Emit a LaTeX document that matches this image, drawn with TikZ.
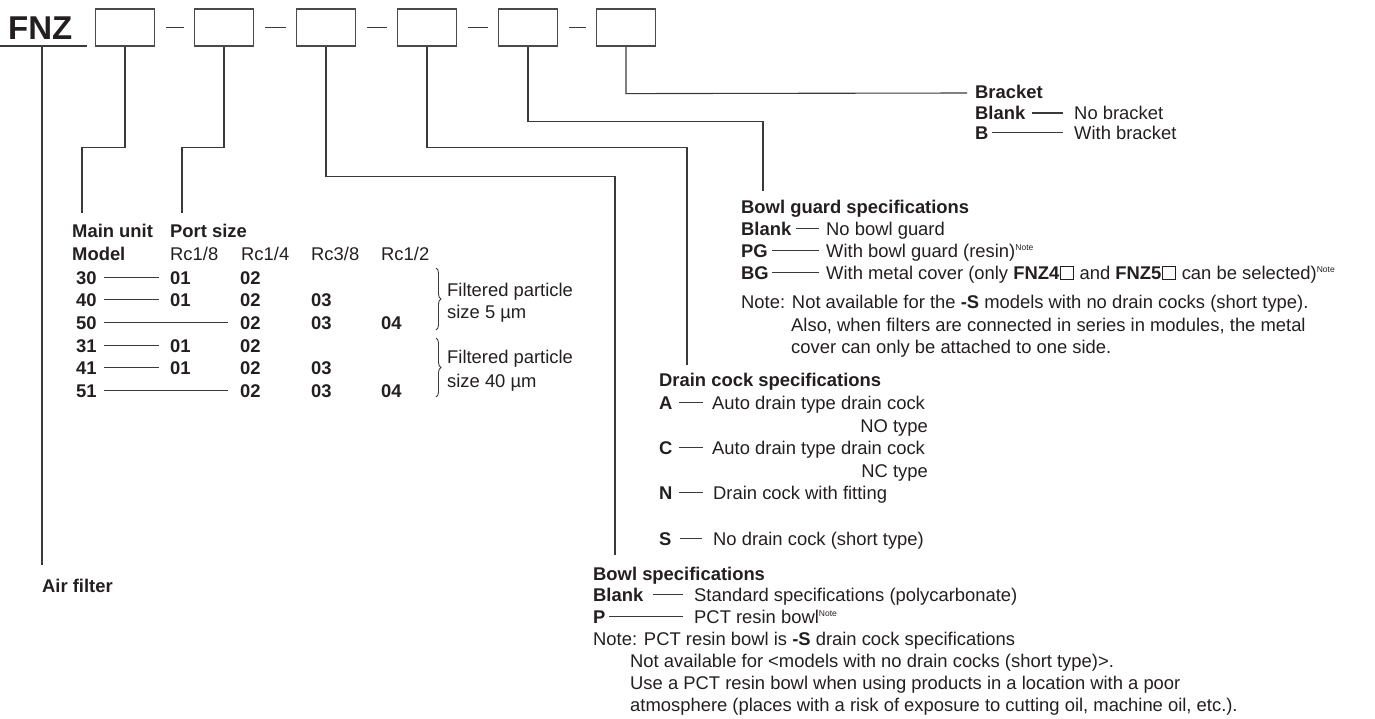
\documentclass[tikz,border=0pt]{standalone}
\usepackage{fontspec}
\setmainfont{Liberation Sans}
\usetikzlibrary{decorations.pathreplacing}
\definecolor{ink}{HTML}{231F20}
\definecolor{linec}{HTML}{3A3A3A}
\definecolor{boxc}{HTML}{4A4A4A}
\newcommand{\supnote}{\raisebox{6.5pt}{\fontsize{8.5}{9}\selectfont\mdseries Note}}
\newcommand{\sqbox}{\kern1pt{\fboxsep=0pt\fboxrule=0.6pt\fbox{\rule{0pt}{12pt}\kern12pt}}\kern1pt}
\begin{document}
\begin{tikzpicture}[x=1pt,y=-1pt,
 txt/.style={inner sep=0pt, anchor=base west, font=\fontsize{18.4}{22}\selectfont, text=ink},
 bt/.style={txt, font=\fontsize{18.4}{22}\selectfont\bfseries},
 rt/.style={txt, anchor=base east},
 codebox/.style={draw=boxc, line width=1.2pt, minimum width=59pt, minimum height=37pt, inner sep=0pt},
 lead/.style={draw=linec, line width=1.1pt},
]
\useasboundingbox (0,0) rectangle (1375,718);

% ---- code header ----
\node[txt, font=\fontsize{33}{36}\selectfont\bfseries] (fnz) at (8,39) {FNZ};
\coordinate (ul0) at (0,46); \coordinate (ul1) at (87,46);
\draw[lead] (ul0) -- (ul1);
\node[codebox] (b1) at (125,27.5) {};
\node[codebox] (b2) at (224,27.5) {};
\node[codebox] (b3) at (326,27.5) {};
\node[codebox] (b4) at (427,27.5) {};
\node[codebox] (b5) at (528,27.5) {};
\node[codebox] (b6) at (626,27.5) {};
\foreach \i/\j in {1/2,2/3,3/4,4/5,5/6}
  \draw[lead] ([xshift=11pt]b\i.east) -- ([xshift=-10pt]b\j.west);

% ---- Air filter ----
\coordinate (af0) at (42,46);
\node[bt] (airf) at (42,592) {Air filter};
\draw[lead] (af0) -- ([shift={(0,-27)}]airf.base west);

% ---- leader lines ----
\coordinate (e1) at (82,213);
\coordinate (e2) at (182,213);
\coordinate (e3) at (615,555);
\coordinate (e4) at (687,365);
\coordinate (e5) at (763,191);
\coordinate (e6) at (967,93);
\draw[lead] (b1.south) -- ++(0,101) -| (e1);
\draw[lead] (b2.south) -- ++(0,101) -| (e2);
\draw[lead] (b3.south) -- ++(0,130) -| (e3);
\draw[lead] (b4.south) -- ++(0,101) -| (e4);
\draw[lead] (b5.south) -- ++(0,75) -| (e5);
\draw[lead] (b6.south) -- ++(0,47) -- (e6);

% ---- Main unit / port size table ----
\node[bt] (mu) at (72,237) {Main unit};
\node[bt] (mo) at (72,260) {Model};
\node[bt] (ps) at (170,237) {Port size};
\node[txt] (r1) at (170,260) {Rc1/8};
\node[txt] (r2) at (241,260) {Rc1/4};
\node[txt] (r3) at (311,260) {Rc3/8};
\node[txt] (r4) at (381,260) {Rc1/2};

\node[bt] (m30) at (76,284) {30};
\node[bt] (c30a) at (170,284) {01};
\node[bt] (c30b) at (240,284) {02};
\draw[lead] ([shift={(28,-6.5)}]m30.base west) -- ([shift={(-11,-6.5)}]c30a.base west);

\node[bt] (m40) at (76,306) {40};
\node[bt] (c40a) at (170,306) {01};
\node[bt] (c40b) at (240,306) {02};
\node[bt] (c40c) at (311,306) {03};
\draw[lead] ([shift={(28,-6.5)}]m40.base west) -- ([shift={(-11,-6.5)}]c40a.base west);

\node[bt] (m50) at (76,329) {50};
\node[bt] (c50b) at (240,329) {02};
\node[bt] (c50c) at (311,329) {03};
\node[bt] (c50d) at (381,329) {04};
\draw[lead] ([shift={(28,-6.5)}]m50.base west) -- ([shift={(-12,-6.5)}]c50b.base west);

\node[bt] (m31) at (76,352) {31};
\node[bt] (c31a) at (170,352) {01};
\node[bt] (c31b) at (240,352) {02};
\draw[lead] ([shift={(28,-6.5)}]m31.base west) -- ([shift={(-11,-6.5)}]c31a.base west);

\node[bt] (m41) at (76,374) {41};
\node[bt] (c41a) at (170,374) {01};
\node[bt] (c41b) at (240,374) {02};
\node[bt] (c41c) at (311,374) {03};
\draw[lead] ([shift={(28,-6.5)}]m41.base west) -- ([shift={(-11,-6.5)}]c41a.base west);

\node[bt] (m51) at (76,397) {51};
\node[bt] (c51b) at (240,397) {02};
\node[bt] (c51c) at (311,397) {03};
\node[bt] (c51d) at (381,397) {04};
\draw[lead] ([shift={(28,-6.5)}]m51.base west) -- ([shift={(-12,-6.5)}]c51b.base west);

\coordinate (br1a) at (436,268); \coordinate (br1b) at (436,330);
\coordinate (br2a) at (436,338); \coordinate (br2b) at (436,397);
\draw[lead, line width=0.9pt, decorate, decoration={brace, amplitude=5pt}] (br1a) -- (br1b);
\draw[lead, line width=0.9pt, decorate, decoration={brace, amplitude=5pt}] (br2a) -- (br2b);
\node[txt] (f1a) at (447,296) {Filtered particle};
\node[txt] (f1b) at (447,318) {size 5 µm};
\node[txt] (f2a) at (447,363) {Filtered particle};
\node[txt] (f2b) at (447,387) {size 40 µm};

% ---- Bracket ----
\node[bt] (brk) at (975,98.5) {Bracket};
\node[bt] (brkN) at (975,119.5) {Blank};
\node[txt] (brkNt) at (1074,119.5) {No bracket};
\node[bt] (brkB) at (975,139) {B};
\node[txt] (brkBt) at (1074,139) {With bracket};
\draw[lead] ([shift={(57,-6.5)}]brkN.base west) -- ([shift={(-11,-6.5)}]brkNt.base west);
\draw[lead] ([shift={(17,-6.5)}]brkB.base west) -- ([shift={(-11,-6.5)}]brkBt.base west);

% ---- Bowl guard ----
\node[bt] (bg) at (741,213) {Bowl guard specifications};
\node[bt] (bgN) at (741,235) {Blank};
\node[txt] (bgNt) at (826,235) {No bowl guard};
\node[bt] (bgP) at (741,257) {PG};
\node[txt] (bgPt) at (826,257) {With bowl guard (resin)\supnote};
\node[bt] (bgB) at (741,279) {BG};
\node[txt] (bgBt) at (826,279) {With metal cover (only \textbf{FNZ4}\sqbox{} and \textbf{FNZ5}\sqbox{} can be selected)\supnote};
\draw[lead] ([shift={(55,-6.5)}]bgN.base west) -- ([shift={(-7,-6.5)}]bgNt.base west);
\draw[lead] ([shift={(31,-6.5)}]bgP.base west) -- ([shift={(-7,-6.5)}]bgPt.base west);
\draw[lead] ([shift={(31,-6.5)}]bgB.base west) -- ([shift={(-7,-6.5)}]bgBt.base west);
\node[txt] (bgn1) at (741,308) {Note: Not available for the \textbf{-S} models with no drain cocks (short type).};
\node[txt] (bgn2) at (791,331) {Also, when filters are connected in series in modules, the metal};
\node[txt] (bgn3) at (791,353) {cover can only be attached to one side.};

% ---- Drain cock ----
\node[bt] (dc) at (659,386) {Drain cock specifications};
\node[bt] (dcA) at (659,409) {A};
\node[txt] (dcAt) at (712,409) {Auto drain type drain cock};
\node[rt] (dcAt2) at (928,432) {NO type};
\node[bt] (dcC) at (659,454) {C};
\node[txt] (dcCt) at (712,454) {Auto drain type drain cock};
\node[rt] (dcCt2) at (928,477) {NC type};
\node[bt] (dcN) at (659,499) {N};
\node[txt] (dcNt) at (713,499) {Drain cock with fitting};
\node[bt] (dcS) at (659,545) {S};
\node[txt] (dcSt) at (713,545) {No drain cock (short type)};
\draw[lead] ([shift={(20,-6.5)}]dcA.base west) -- ([shift={(-9,-6.5)}]dcAt.base west);
\draw[lead] ([shift={(20,-6.5)}]dcC.base west) -- ([shift={(-9,-6.5)}]dcCt.base west);
\draw[lead] ([shift={(20,-6.5)}]dcN.base west) -- ([shift={(-10,-6.5)}]dcNt.base west);
\draw[lead] ([shift={(21,-6.5)}]dcS.base west) -- ([shift={(-11,-6.5)}]dcSt.base west);

% ---- Bowl ----
\node[bt] (bw) at (593,580) {Bowl specifications};
\node[bt] (bwN) at (593,601) {Blank};
\node[txt] (bwNt) at (694,601) {Standard specifications (polycarbonate)};
\node[bt] (bwP) at (593,623) {P};
\node[txt] (bwPt) at (694,623) {PCT resin bowl\supnote};
\draw[lead] ([shift={(60,-6.5)}]bwN.base west) -- ([shift={(-11,-6.5)}]bwNt.base west);
\draw[lead] ([shift={(16,-6.5)}]bwP.base west) -- ([shift={(-11,-6.5)}]bwPt.base west);
\node[txt] (bwn1) at (593,645) {Note: PCT resin bowl is \textbf{-S} drain cock specifications};
\node[txt] (bwn2) at (630,667) {Not available for <models with no drain cocks (short type)>.};
\node[txt] (bwn3) at (630,689) {Use a PCT resin bowl when using products in a location with a poor};
\node[txt] (bwn4) at (630,711) {atmosphere (places with a risk of exposure to cutting oil, machine oil, etc.).};
\end{tikzpicture}
\end{document}
